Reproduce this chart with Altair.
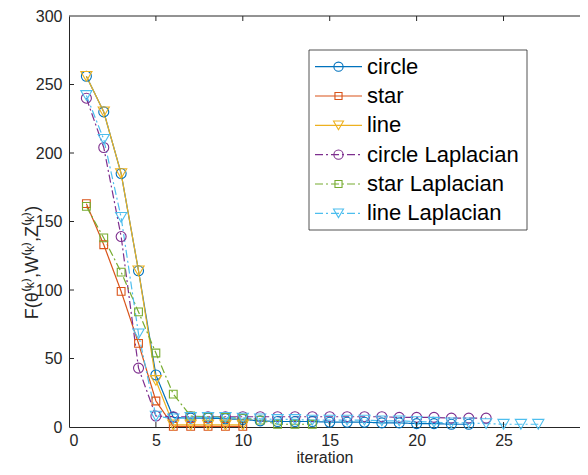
import altair as alt
import pandas as pd

# ---------------- data ----------------
names = ["circle", "star", "line", "circle Laplacian", "star Laplacian", "line Laplacian"]
colors = ["#0072BD", "#D95319", "#EDB120", "#7E2F8E", "#77AC30", "#4DBEEE"]
marker_kind = ["circle", "square", "triangle-down", "circle", "square", "triangle-down"]

circle = [256, 230, 185, 114, 38, 7, 6.5, 6.5, 6, 5.5, 4.5, 4, 4, 4, 3.5, 3.5, 3.5, 3, 3, 2.5, 2.5, 2, 2]
star = [163, 133, 99, 61, 19, 0.5, 0.5, 0.5, 0.5, 0.5]
line = [256, 230, 185, 114, 34, 1.5, 1.5, 1.5, 1.5, 1.5]
circle_lap = [240, 204, 139, 43, 8, 7.5, 7.5, 7.5, 7.5, 7.5, 7.5, 7.5, 7.5, 7.5, 7.5, 7.5, 7.5, 7.5,
              7, 7, 7, 6.5, 6.5, 6.5]
star_lap = [161, 138, 113, 84, 54, 24, 8, 7.5, 7, 6.5, 5, 2, 2, 2]
line_lap = [242, 210, 153, 68, 8, 6, 7, 7, 7, 6.5, 6, 5.5, 5.5, 5, 5, 5, 5, 4.5, 4.5, 4, 3.5, 3, 3,
            2.5, 2, 2, 2]
series = [circle, star, line, circle_lap, star_lap, line_lap]

x_ticks = [0, 5, 10, 15, 20, 25]
y_ticks = [0, 50, 100, 150, 200, 250, 300]

x_title = "iteration"
y_title = "F(θ⁽ᵏ⁾,W⁽ᵏ⁾,Z⁽ᵏ⁾)"

rows = []
for name, kind, vals in zip(names, marker_kind, series):
    for i, v in enumerate(vals, start=1):
        rows.append({"series": name, "kind": kind, "iteration": i, "value": v})
df = pd.DataFrame(rows)

# ---------------- layout / style ----------------
W, H = 511, 411
AX = "#262626"
DASHDOT = [8, 3, 2, 3]
MARKER_SIZE = {"circle": 100, "square": 60, "triangle-down": 125}
LEG_SIZE = {"circle": 85, "square": 50, "triangle-down": 100}

x_scale = alt.Scale(domain=[0, 29.4], nice=False, zero=False)
y_scale = alt.Scale(domain=[0, 300], nice=False)
color_scale = alt.Scale(domain=names, range=colors)
dash_scale = alt.Scale(domain=names, range=[[1, 0], [1, 0], [1, 0], DASHDOT, DASHDOT, DASHDOT])

x_axis = alt.Axis(values=x_ticks, tickSize=0, labelPadding=5, labelFontSize=16, labelColor=AX,
                  domainColor=AX, domainWidth=1, grid=False, titleFontSize=16,
                  titleFontWeight="normal", titleColor=AX, titleBaseline="alphabetic", titleY=35)
y_axis = alt.Axis(values=y_ticks, tickSize=0, labelPadding=7, labelFontSize=16, labelColor=AX,
                  domainColor=AX, domainWidth=1, grid=False, titleFontSize=18,
                  titleFontWeight="normal", titleColor=AX, titleX=-28, titleY=246)

base = alt.Chart(df)
color_enc = alt.Color("series:N", scale=color_scale, legend=None)
dash_enc = alt.StrokeDash("series:N", scale=dash_scale, legend=None)

lines = base.mark_line(strokeWidth=1.2).encode(
    x=alt.X("iteration:Q", scale=x_scale, axis=x_axis, title=x_title),
    y=alt.Y("value:Q", scale=y_scale, axis=y_axis, title=y_title),
    color=color_enc,
    strokeDash=dash_enc,
)

point_layers = []
for kind, sz in MARKER_SIZE.items():
    point_layers.append(
        base.transform_filter(alt.datum.kind == kind)
        .mark_point(shape=kind, size=sz, filled=False, strokeWidth=1.1, opacity=1)
        .encode(x=alt.X("iteration:Q", scale=x_scale), y=alt.Y("value:Q", scale=y_scale), color=color_enc)
    )

xt = pd.DataFrame({"t": x_ticks[1:]})
yt = pd.DataFrame({"t": y_ticks[1:-1]})
one = pd.DataFrame({"k": [0]})

bottom_ticks = alt.Chart(xt).mark_rule(color=AX, strokeWidth=1).encode(
    x=alt.X("t:Q", scale=x_scale), y=alt.value(H), y2=alt.value(H - 5))
top_ticks = alt.Chart(xt).mark_rule(color=AX, strokeWidth=1).encode(
    x=alt.X("t:Q", scale=x_scale), y=alt.value(0), y2=alt.value(5))
left_ticks = alt.Chart(yt).mark_rule(color=AX, strokeWidth=1).encode(
    y=alt.Y("t:Q", scale=y_scale), x=alt.value(0), x2=alt.value(5))
top_border = alt.Chart(one).mark_rule(color=AX, strokeWidth=1).encode(
    x=alt.value(0), x2=alt.value(W), y=alt.value(0))

data_layer = alt.layer(lines, *point_layers, bottom_ticks, top_ticks, left_ticks, top_border)

# ---------------- legend ----------------
leg_df = pd.DataFrame({"series": names, "kind": marker_kind, "idx": list(range(len(names)))})
leg = alt.Chart(leg_df)
leg_y = alt.Y("idx:Q", scale=alt.Scale(domain=[0, 5], range=[50.7, 197.3]), axis=None)

box = alt.Chart(one).mark_rect(fill="white", stroke=AX, strokeWidth=0.8).encode(
    x=alt.value(240), x2=alt.value(458), y=alt.value(34), y2=alt.value(214))
leg_lines = leg.mark_rule(strokeWidth=1.2).encode(
    x=alt.value(246), x2=alt.value(293), y=leg_y, color=color_enc, strokeDash=dash_enc)
leg_points = []
for kind, sz in LEG_SIZE.items():
    leg_points.append(
        leg.transform_filter(alt.datum.kind == kind)
        .mark_point(shape=kind, size=sz, filled=False, strokeWidth=1.1, opacity=1)
        .encode(x=alt.value(269.5), y=leg_y, color=color_enc)
    )
leg_text = leg.mark_text(align="left", baseline="middle", fontSize=22, color="black").encode(
    x=alt.value(298), y=leg_y, text="series:N")

legend_layer = alt.layer(box, leg_lines, *leg_points, leg_text)

chart = alt.layer(data_layer, legend_layer).resolve_scale(y="independent").properties(
    width=W, height=H,
    padding={"left": 61, "top": 8, "right": 0, "bottom": 40},
    autosize="none",
).configure(font="Liberation Sans").configure_view(stroke=None)

chart.save("out.html", embed_options={"renderer": "svg", "actions": False})
